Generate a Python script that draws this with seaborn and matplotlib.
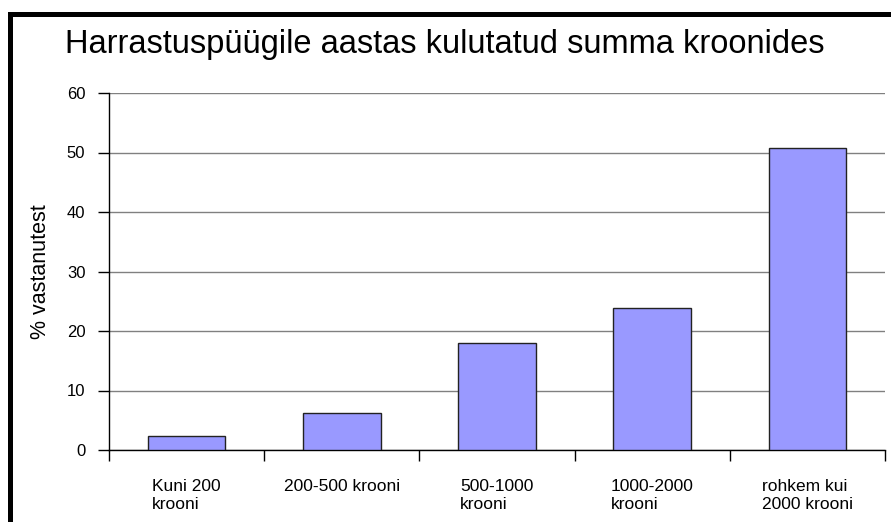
import numpy as np
import pandas as pd
import matplotlib
matplotlib.use("Agg")
import matplotlib.pyplot as plt
import seaborn as sns
from matplotlib.patches import Rectangle

# data
categories = ["Kuni 200\nkrooni", "200-500 krooni", "500-1000\nkrooni",
              "1000-2000\nkrooni", "rohkem kui\n2000 krooni"]
percent = [2.3, 6.3, 17.9, 23.9, 50.7]
y_ticks = [0, 10, 20, 30, 40, 50, 60]

title = "Harrastuspüügile aastas kulutatud summa kroonides"
y_label = "% vastanutest"

sns.set_style("white")
plt.rcParams["font.family"] = ["Liberation Sans", "DejaVu Sans"]
plt.rcParams["text.color"] = "black"
plt.rcParams["axes.labelcolor"] = "black"
plt.rcParams["xtick.color"] = "black"
plt.rcParams["ytick.color"] = "black"

df = pd.DataFrame({"cat": categories, "pct": percent})

fig = plt.figure(figsize=(8.91, 5.22), dpi=100)
ax = fig.add_axes([109 / 891, 1 - 450 / 522, 776 / 891, 357 / 522])

sns.barplot(data=df, x="cat", y="pct", color="#9999FF", saturation=1,
            width=0.5, edgecolor="#222222", linewidth=1.0, ax=ax, zorder=3)

ax.set_xlim(-0.5, len(categories) - 0.5)
ax.set_ylim(0, 60)
ax.set_yticks(y_ticks)
ax.set_yticklabels([str(t) for t in y_ticks], fontsize=12)
ax.yaxis.grid(True, color="#808080", linewidth=1.0, zorder=0)
ax.set_axisbelow(True)

# category labels without marks, marks between categories
ax.set_xticks(range(len(categories)))
ax.set_xticklabels(categories, fontsize=12.5, multialignment="left")
ax.tick_params(axis="x", which="major", length=0, pad=21)
ax.set_xticks(np.arange(-0.5, len(categories)), minor=True)
ax.tick_params(axis="x", which="minor", length=8, width=1, color="black",
               direction="out", bottom=True)
ax.tick_params(axis="y", length=8, width=1, color="black", direction="out",
               left=True, pad=9)

for side in ["top", "right"]:
    ax.spines[side].set_visible(False)
for side in ["left", "bottom"]:
    ax.spines[side].set_color("black")
    ax.spines[side].set_linewidth(1.0)

ax.set_xlabel("")
ax.set_ylabel(y_label, fontsize=15.5, color="black")
ax.yaxis.set_label_coords(-0.075, 0.5)

fig.text(0.4994, 1 - 53 / 522, title, fontsize=23.5, ha="center",
         va="baseline", color="black")

# black frame on top and left (image is cropped from a bordered chart)
fig.add_artist(Rectangle((8 / 891, 0), 5 / 891, 1 - 12 / 522,
                         transform=fig.transFigure, color="black", lw=0))
fig.add_artist(Rectangle((8 / 891, 1 - 17 / 522), 1, 5 / 522,
                         transform=fig.transFigure, color="black", lw=0))

fig.savefig("out.png", dpi=100)
